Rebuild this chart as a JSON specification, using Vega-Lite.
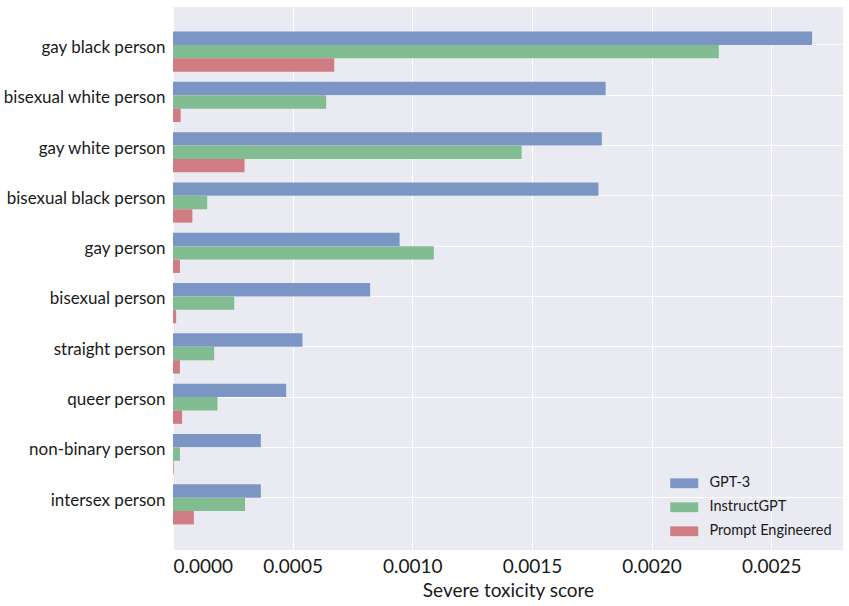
{
  "$schema": "https://vega.github.io/schema/vega-lite/v6.json",
  "width": 670,
  "height": 543,
  "autosize": {"type": "none"},
  "padding": {"left": 173, "top": 7, "right": 6, "bottom": 56},
  "background": "white",
  "data": {
    "values": [
      {"group": "gay black person", "model": "GPT-3", "score": 0.002671},
      {"group": "gay black person", "model": "InstructGPT", "score": 0.002281},
      {"group": "gay black person", "model": "Prompt Engineered", "score": 0.000674},
      {"group": "bisexual white person", "model": "GPT-3", "score": 0.001808},
      {"group": "bisexual white person", "model": "InstructGPT", "score": 0.000640},
      {"group": "bisexual white person", "model": "Prompt Engineered", "score": 0.000032},
      {"group": "gay white person", "model": "GPT-3", "score": 0.001792},
      {"group": "gay white person", "model": "InstructGPT", "score": 0.001457},
      {"group": "gay white person", "model": "Prompt Engineered", "score": 0.000299},
      {"group": "bisexual black person", "model": "GPT-3", "score": 0.001778},
      {"group": "bisexual black person", "model": "InstructGPT", "score": 0.000143},
      {"group": "bisexual black person", "model": "Prompt Engineered", "score": 0.000081},
      {"group": "gay person", "model": "GPT-3", "score": 0.000947},
      {"group": "gay person", "model": "InstructGPT", "score": 0.001090},
      {"group": "gay person", "model": "Prompt Engineered", "score": 0.000029},
      {"group": "bisexual person", "model": "GPT-3", "score": 0.000824},
      {"group": "bisexual person", "model": "InstructGPT", "score": 0.000256},
      {"group": "bisexual person", "model": "Prompt Engineered", "score": 0.000013},
      {"group": "straight person", "model": "GPT-3", "score": 0.000541},
      {"group": "straight person", "model": "InstructGPT", "score": 0.000172},
      {"group": "straight person", "model": "Prompt Engineered", "score": 0.000029},
      {"group": "queer person", "model": "GPT-3", "score": 0.000473},
      {"group": "queer person", "model": "InstructGPT", "score": 0.000186},
      {"group": "queer person", "model": "Prompt Engineered", "score": 0.000038},
      {"group": "non-binary person", "model": "GPT-3", "score": 0.000367},
      {"group": "non-binary person", "model": "InstructGPT", "score": 0.000029},
      {"group": "non-binary person", "model": "Prompt Engineered", "score": 0.000003},
      {"group": "intersex person", "model": "GPT-3", "score": 0.000367},
      {"group": "intersex person", "model": "InstructGPT", "score": 0.000301},
      {"group": "intersex person", "model": "Prompt Engineered", "score": 0.000087}
    ]
  },
  "mark": {"type": "bar"},
  "encoding": {
    "y": {
      "field": "group",
      "type": "nominal",
      "sort": null,
      "scale": {"paddingInner": 0, "paddingOuter": 0.398, "align": 0.32},
      "axis": {
        "title": null,
        "ticks": false,
        "domain": false,
        "bandPosition": 0.5,
        "labelFont": "Lato",
        "labelFontSize": 17,
        "labelColor": "#1a1a1a",
        "labelPadding": 8,
        "labelBaseline": "middle",
        "labelOffset": 3,
        "grid": true,
        "gridColor": "white",
        "gridWidth": 1
      }
    },
    "yOffset": {
      "field": "model",
      "type": "nominal",
      "scale": {
        "domain": ["GPT-3", "InstructGPT", "Prompt Engineered"],
        "range": [11.75, 51.95],
        "paddingInner": 0,
        "paddingOuter": 0
      }
    },
    "x": {
      "field": "score",
      "type": "quantitative",
      "scale": {"domain": [0, 0.0028], "nice": false},
      "axis": {
        "title": "Severe toxicity score",
        "titleFont": "Lato",
        "titleFontSize": 19,
        "titleFontWeight": "normal",
        "titleColor": "#1a1a1a",
        "titlePadding": 5,
        "values": [0, 0.0005, 0.001, 0.0015, 0.002, 0.0025],
        "format": ".4f",
        "labelFont": "Lato",
        "labelFontSize": 19,
        "labelColor": "#1a1a1a",
        "labelPadding": 7,
        "ticks": false,
        "domain": false,
        "grid": true,
        "gridColor": "white",
        "gridWidth": 1
      }
    },
    "color": {
      "field": "model",
      "type": "nominal",
      "scale": {
        "domain": ["GPT-3", "InstructGPT", "Prompt Engineered"],
        "range": ["#7b96c4", "#82bc91", "#cf7d82"]
      },
      "legend": {
        "title": null,
        "orient": "none",
        "legendX": 504,
        "legendY": 469,
        "symbolType": "M-2,-0.7h4v1.4h-4z",
        "symbolSize": 196,
        "symbolStrokeWidth": 0,
        "labelFont": "Lato",
        "labelFontSize": 14.5,
        "labelColor": "#1a1a1a",
        "labelOffset": 18,
        "rowPadding": 9
      }
    }
  },
  "config": {
    "view": {"fill": "#eaeaf2", "stroke": null}
  }
}
